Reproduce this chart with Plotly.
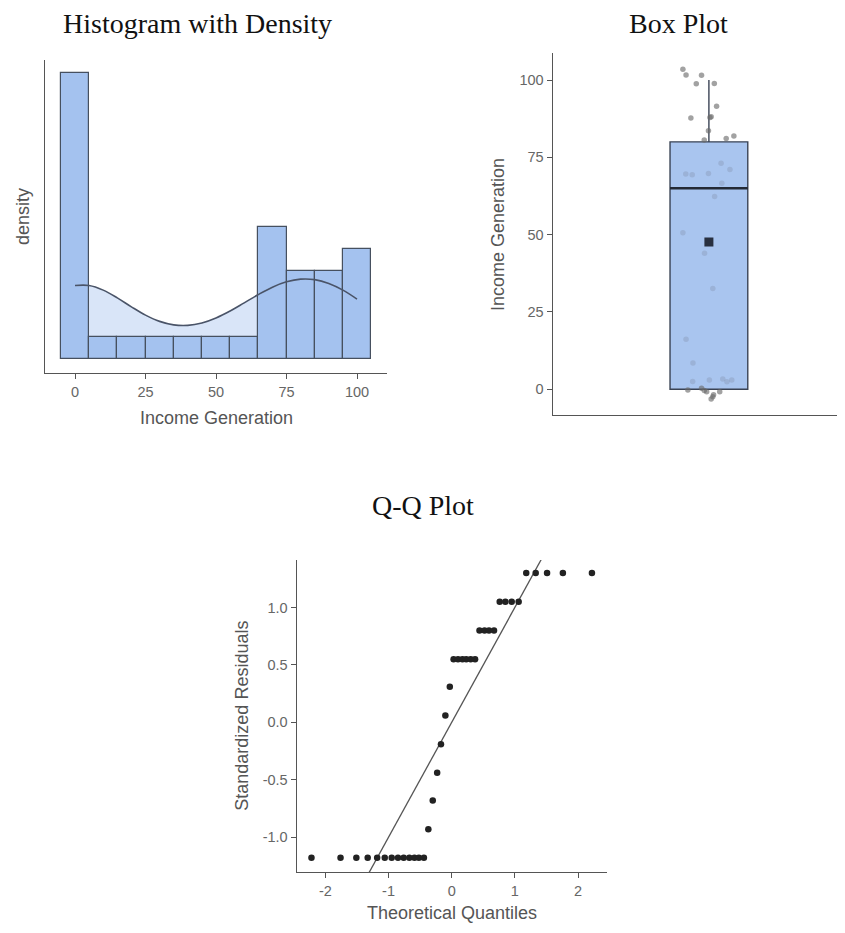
import plotly.graph_objects as go
import numpy as np

# ---------------- data ----------------
income = [0, 0, 0, 0, 0, 0, 0, 0, 0, 0, 0, 0, 0,
          10, 20, 30, 40, 50, 60,
          70, 70, 70, 70, 70, 70,
          80, 80, 80, 80,
          90, 90, 90, 90,
          100, 100, 100, 100, 100]

hist_ticks = [0, 25, 50, 75, 100]

# density curve
density_x = [0, 5, 10, 15, 20, 25, 30, 35, 40, 45, 50, 55, 60, 65, 70, 75, 80, 85, 90, 95, 100]
density_y = [0.00879, 0.00879, 0.00824, 0.00731, 0.00624, 0.00525, 0.00450, 0.00408,
             0.00402, 0.00431, 0.00491, 0.00574, 0.00672, 0.00771, 0.00859, 0.00923,
             0.00955, 0.00949, 0.00904, 0.00824, 0.00717]

# jittered points of the box plot
box_pts_y = [103.5, 101.6, 101.5, 98.8, 98.9,
             91.5, 87.7, 88.1, 87.9,
             83.6, 80.6, 81.1, 81.9,
             69.6, 69.4, 69.8, 73.1, 71.1, 66.6,
             62.3, 50.6, 44.0, 32.6, 16.2, 8.5,
             2.5, 3.0, 3.3, 3.0, -0.2, 0.3, -0.8, -0.8, -2.4, -3.1, -1.8, -0.4, 2.4]
box_pts_x = [-0.173, -0.152, -0.049, -0.084, 0.036,
             0.051, -0.120, 0.015, 0.007,
             -0.003, -0.031, 0.115, 0.166,
             -0.154, -0.111, -0.003, 0.081, 0.140, 0.086,
             0.038, -0.173, -0.029, 0.026, -0.152, -0.106,
             -0.108, 0.003, 0.092, 0.152, -0.140, -0.049, -0.015, 0.072, 0.026, 0.015, 0.031, -0.031, 0.120]
box_ticks = [0, 25, 50, 75, 100]

# Q-Q plot
qq_theoretical = [-2.22, -1.76, -1.51, -1.33, -1.18, -1.06, -0.95, -0.85, -0.76, -0.67,
                  -0.59, -0.52, -0.44, -0.37, -0.30, -0.23, -0.17, -0.10, -0.03, 0.03,
                  0.10, 0.17, 0.23, 0.30, 0.37, 0.44, 0.52, 0.59, 0.67, 0.76,
                  0.85, 0.95, 1.06, 1.18, 1.33, 1.51, 1.76, 2.22]
qq_residuals = [-1.18, -1.18, -1.18, -1.18, -1.18, -1.18, -1.18, -1.18, -1.18, -1.18,
                -1.18, -1.18, -1.18, -0.93, -0.68, -0.44, -0.19, 0.06, 0.31, 0.55,
                0.55, 0.55, 0.55, 0.55, 0.55, 0.80, 0.80, 0.80, 0.80, 1.05,
                1.05, 1.05, 1.05, 1.30, 1.30, 1.30, 1.30, 1.30]
qq_line = [-2.5, 2.5]
qq_xticks = [-2, -1, 0, 1, 2]
qq_xticktext = ["-2", "-1", "0", "1", "2"]
qq_yticks = [-1.0, -0.5, 0.0, 0.5, 1.0]
qq_yticktext = ["-1.0", "-0.5", "0.0", "0.5", "1.0"]

# ---------------- styling ----------------
OFF = 8  # page body margin
W, H = 845 - 2 * OFF, 933 - 2 * OFF
SANS = "Liberation Sans, Arial, sans-serif"
SERIF = "Liberation Serif, Times New Roman, serif"
AX = "#555555"
TICKC = "#666666"
BAR = "#a4c2ef"
EDGE = "#46505f"


def px_x(p):
    return min(1.0, (p - OFF) / W)


def px_y(p):
    return 1 - (p - OFF) / H


fig = go.Figure()

# --- histogram panel ---
fig.add_trace(go.Scatter(x=density_x, y=density_y, mode="lines",
                         line=dict(width=0, shape="spline"), fill="tozeroy",
                         fillcolor="rgba(164,194,239,0.42)", hoverinfo="skip",
                         xaxis="x", yaxis="y"))
fig.add_trace(go.Histogram(x=income, histnorm="probability density",
                           xbins=dict(start=-5, end=105, size=10),
                           marker=dict(color=BAR, line=dict(color=EDGE, width=1.2)),
                           xaxis="x4", yaxis="y4"))
fig.add_trace(go.Scatter(x=density_x, y=density_y, mode="lines",
                         line=dict(color="#4a5468", width=1.6, shape="spline"),
                         xaxis="x4", yaxis="y4"))

# --- box panel ---
q1, med, q3 = np.percentile(income, [25, 50, 75])
box_w = 0.517
fig.add_trace(go.Box(y=income, x0=0, width=box_w, fillcolor="#a9c5ef",
                     line=dict(color="#3a4354", width=1.4), boxpoints=False,
                     whiskerwidth=0, xaxis="x2", yaxis="y2"))
pt_colors = []
for xv, yv in zip(box_pts_x, box_pts_y):
    inside = (q1 + 0.5 < yv < q3 - 0.5) and abs(xv) < box_w / 2
    pt_colors.append("rgba(120,130,155,0.28)" if inside else "rgba(105,105,105,0.62)")
fig.add_trace(go.Scatter(x=box_pts_x, y=box_pts_y, mode="markers",
                         marker=dict(size=5.5, color=pt_colors),
                         xaxis="x2", yaxis="y2"))
fig.add_trace(go.Scatter(x=[-box_w / 2, box_w / 2], y=[med, med], mode="lines",
                         line=dict(color="#232a36", width=2.4),
                         xaxis="x2", yaxis="y2"))
fig.add_trace(go.Scatter(x=[0], y=[float(np.mean(income))], mode="markers",
                         marker=dict(symbol="square", size=9, color="#283040"),
                         xaxis="x2", yaxis="y2"))

# --- Q-Q panel ---
fig.add_trace(go.Scatter(x=qq_line, y=qq_line, mode="lines",
                         line=dict(color="#555555", width=1.3),
                         xaxis="x3", yaxis="y3"))
fig.add_trace(go.Scatter(x=qq_theoretical, y=qq_residuals, mode="markers",
                         marker=dict(size=6.5, color="#222222"),
                         xaxis="x3", yaxis="y3"))

axis_common = dict(showgrid=False, zeroline=False, showline=True, linecolor=AX,
                   linewidth=1.2, ticks="outside", ticklen=5, tickwidth=1.2,
                   tickcolor=AX, tickfont=dict(family=SANS, size=14.5, color=TICKC))

hist_xr = [-10.64, 110.64]
hist_yr = [-0.001675, 0.035766]

fig.update_layout(
    width=W, height=H, margin=dict(l=0, r=0, t=0, b=0),
    paper_bgcolor="white", plot_bgcolor="white", showlegend=False,
    xaxis=dict(domain=[px_x(45), px_x(387)], range=hist_xr, anchor="y",
               tickvals=hist_ticks, **axis_common),
    yaxis=dict(domain=[px_y(373), px_y(60)], range=hist_yr, anchor="x",
               showgrid=False, zeroline=False, showline=True, linecolor=AX,
               linewidth=1.2, ticks="", showticklabels=False),
    xaxis4=dict(overlaying="x", range=hist_xr, visible=False, anchor="y4"),
    yaxis4=dict(overlaying="y", range=hist_yr, visible=False, anchor="x4"),
    xaxis2=dict(domain=[px_x(552.7), 1.0], range=[-1.0387, 0.9613 - 16 / 146.15], anchor="y2",
                showgrid=False, zeroline=False, showline=True, linecolor=AX,
                linewidth=1.2, ticks="", showticklabels=False),
    yaxis2=dict(domain=[px_y(415), px_y(53)], range=[-8.31, 108.73], anchor="x2",
                tickvals=box_ticks, **axis_common),
    xaxis3=dict(domain=[px_x(296.7), px_x(606.7)], range=[-2.454, 2.454], anchor="y3",
                tickvals=qq_xticks, ticktext=qq_xticktext, **axis_common),
    yaxis3=dict(domain=[px_y(872), px_y(560)], range=[-1.303, 1.413], anchor="x3",
                tickvals=qq_yticks, ticktext=qq_yticktext, **axis_common),
)

annos = [
    dict(text="Histogram with Density", x=197.5, y=24, size=28, family=SERIF, color="#111111", angle=0),
    dict(text="Box Plot", x=678.3, y=24, size=28, family=SERIF, color="#111111", angle=0),
    dict(text="Q-Q Plot", x=422.5, y=505, size=28, family=SERIF, color="#111111", angle=0),
    dict(text="Income Generation", x=216, y=418, size=18, family=SANS, color="#555555", angle=0),
    dict(text="density", x=23, y=217, size=18, family=SANS, color="#555555", angle=-90),
    dict(text="Income Generation", x=498, y=235, size=18, family=SANS, color="#555555", angle=-90),
    dict(text="Theoretical Quantiles", x=451.7, y=913, size=18, family=SANS, color="#555555", angle=0),
    dict(text="Standardized Residuals", x=241.7, y=716, size=18, family=SANS, color="#555555", angle=-90),
]
for a in annos:
    fig.add_annotation(text=a["text"], x=px_x(a["x"]), y=px_y(a["y"]), xref="paper", yref="paper",
                       xanchor="center", yanchor="middle", showarrow=False,
                       textangle=a["angle"],
                       font=dict(family=a["family"], size=a["size"], color=a["color"]))

fig.write_html("out.html")
